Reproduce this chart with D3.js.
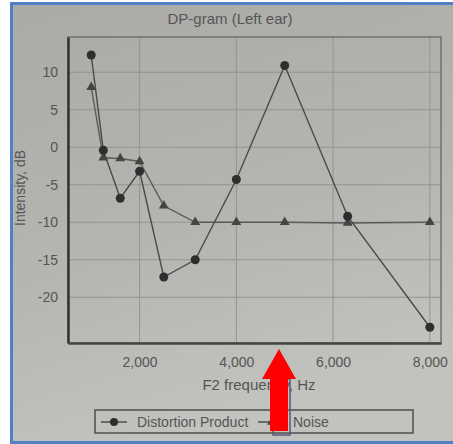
<!DOCTYPE html>
<meta charset="utf-8">
<style>
body{margin:0; background:#fff;}
svg text{font-family:"Liberation Sans", Arial, sans-serif; fill:#555;}
</style>
<svg id="chart" width="453" height="444"></svg>
<script src="https://d3js.org/d3.v7.min.js"></script>
<script>
const FREQS = [1000, 1250, 1600, 2000, 2500, 3150, 4000, 5000, 6300, 8000]
const DP_VALUES = [12.3, -0.4, -6.8, -3.2, -17.3, -15.0, -4.3, 10.9, -9.2, -24.0]
const NOISE_VALUES = [8.0, -1.4, -1.5, -1.9, -7.8, -10.0, -10.0, -10.0, -10.1, -10.0]
const X_TICKS = [2000, 4000, 6000, 8000]
const Y_TICKS = [10, 5, 0, -5, -10, -15, -20]

const svg = d3.select('#chart')

// paper background + the blue frame of the photo
const defs = svg.append('defs')
const grad = defs.append('linearGradient').attr('id', 'paper')
  .attr('x1', 0).attr('y1', 0).attr('x2', 0.3).attr('y2', 1)
grad.append('stop').attr('offset', '0%').attr('stop-color', '#abaaa7')
grad.append('stop').attr('offset', '60%').attr('stop-color', '#b5b5b2')
grad.append('stop').attr('offset', '100%').attr('stop-color', '#c2c2bf')

svg.append('rect').attr('x', 10).attr('y', 2).attr('width', 443).attr('height', 442)
  .attr('fill', '#4f81c4')
svg.append('rect').attr('x', 13).attr('y', 5).attr('width', 440).attr('height', 436)
  .attr('fill', 'url(#paper)')

const plot = {left: 68, right: 441, top: 37, bottom: 343}

const x = d3.scaleLinear().domain([520, 8230]).range([plot.left, plot.right])
const y = d3.scaleLinear().domain([-26.1, 14.7]).range([plot.bottom, plot.top])

// grid
const g = svg.append('g')
g.selectAll('line.hgrid').data(Y_TICKS).enter().append('line')
  .attr('class', 'hgrid')
  .attr('x1', plot.left).attr('x2', plot.right)
  .attr('y1', d => y(d)).attr('y2', d => y(d))
  .attr('stroke', '#939390').attr('stroke-width', 1)
g.selectAll('line.vgrid').data(X_TICKS).enter().append('line')
  .attr('class', 'vgrid')
  .attr('y1', plot.top).attr('y2', plot.bottom)
  .attr('x1', d => x(d)).attr('x2', d => x(d))
  .attr('stroke', '#939390').attr('stroke-width', 1)

// plot frame: light top/right, heavy left/bottom
g.append('rect').attr('x', plot.left).attr('y', plot.top)
  .attr('width', plot.right - plot.left).attr('height', plot.bottom - plot.top)
  .attr('fill', 'none').attr('stroke', '#707070').attr('stroke-width', 1.5)

// axes through d3-axis, domain lines restyled
// plain hyphen for negatives, as printed
const yAxis = svg.append('g').attr('transform', `translate(${plot.left},0)`)
  .call(d3.axisLeft(y).tickValues(Y_TICKS).tickSize(0).tickPadding(10)
    .tickFormat(d => String(d)))
yAxis.select('.domain').attr('stroke', '#333').attr('stroke-width', 2.5)
yAxis.selectAll('text').style('font-size', '14px').attr('fill', '#555')

const xAxis = svg.append('g').attr('transform', `translate(0,${plot.bottom})`)
  .call(d3.axisBottom(x).tickValues(X_TICKS).tickSize(0).tickPadding(14)
    .tickFormat(d3.format(',')))
xAxis.select('.domain').attr('stroke', '#444').attr('stroke-width', 2.5)
xAxis.selectAll('text').style('font-size', '14px').attr('fill', '#555')

// titles
svg.append('text').attr('x', 230).attr('y', 24).attr('text-anchor', 'middle')
  .style('font-size', '15px').text('DP-gram (Left ear)')
svg.append('text').attr('x', 259).attr('y', 390).attr('text-anchor', 'middle')
  .style('font-size', '15px').text('F2 frequency, Hz')
svg.append('text').attr('transform', 'translate(25,188) rotate(-90)')
  .attr('text-anchor', 'middle').style('font-size', '14px').text('Intensity, dB')

// series
const line = (vals) => d3.line().x((d, i) => x(FREQS[i])).y(d => y(d))(vals)
const tri = d3.symbol().type(d3.symbolTriangle).size(42)

svg.append('path').attr('d', line(NOISE_VALUES))
  .attr('fill', 'none').attr('stroke', '#5a5a5a').attr('stroke-width', 1.4)
svg.selectAll('path.noise').data(NOISE_VALUES).enter().append('path')
  .attr('class', 'noise')
  .attr('d', tri)
  .attr('transform', (d, i) => `translate(${x(FREQS[i])},${y(d)})`)
  .attr('fill', '#444')

svg.append('path').attr('d', line(DP_VALUES))
  .attr('fill', 'none').attr('stroke', '#4a4a4a').attr('stroke-width', 1.4)
svg.selectAll('circle.dp').data(DP_VALUES).enter().append('circle')
  .attr('class', 'dp')
  .attr('cx', (d, i) => x(FREQS[i])).attr('cy', d => y(d))
  .attr('r', 4.5).attr('fill', '#2e2e2e')

// legend
const lg = svg.append('g')
lg.append('rect').attr('x', 95).attr('y', 410).attr('width', 318).attr('height', 23)
  .attr('fill', 'none').attr('stroke', '#555').attr('stroke-width', 1.6)
lg.append('line').attr('x1', 101).attr('x2', 127).attr('y1', 422).attr('y2', 422)
  .attr('stroke', '#444').attr('stroke-width', 1.4)
lg.append('circle').attr('cx', 114).attr('cy', 422).attr('r', 4).attr('fill', '#2e2e2e')
lg.append('text').attr('x', 137).attr('y', 427).style('font-size', '14px')
  .text('Distortion Product')
lg.append('line').attr('x1', 258).attr('x2', 286).attr('y1', 422).attr('y2', 422)
  .attr('stroke', '#444').attr('stroke-width', 1.4)
lg.append('path').attr('d', tri).attr('transform', 'translate(272,422)').attr('fill', '#444')
lg.append('text').attr('x', 293).attr('y', 427).style('font-size', '14px').text('Noise')

// red arrow pasted onto the photo
svg.append('path')
  .attr('d', 'M288,379 L290,379 L290,435 L273,435 L273,431')
  .attr('fill', 'none').attr('stroke', '#5d5577').attr('stroke-width', 1.5)
svg.append('path')
  .attr('d', 'M279,349 L296,379 L288,379 L288,431 L270,431 L270,379 L262,379 Z')
  .attr('fill', '#ff0000')
</script>
